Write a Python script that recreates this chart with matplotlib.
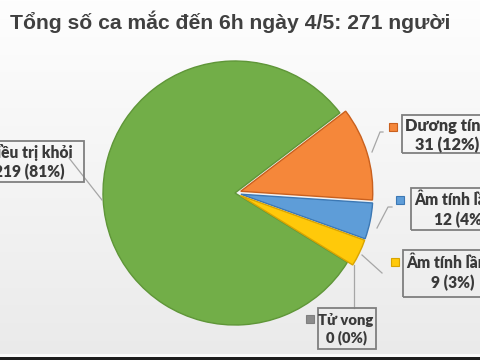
import matplotlib.pyplot as plt
import numpy as np
from matplotlib.patches import Rectangle
from matplotlib.colors import LinearSegmentedColormap

# data
title = "Tổng số ca mắc đến 6h ngày 4/5: 271 người"
labels = ["Điều trị khỏi", "Dương tính", "Âm tính lần 1", "Âm tính lần 2", "Tử vong"]
values = [219, 31, 12, 9, 0]
pct = ["81%", "12%", "4%", "3%", "0%"]

colors = ["#72AE48", "#F5873A", "#5E9DD8", "#FFC90A", "#8C8C8C"]
edges = ["#5F9638", "#C9601E", "#3C78B4", "#D9A400", "#8C8C8C"]
# offsets in pixels (pie centre/radius are given in pixels too)
explode = [0, 6, 6, 6, 0]

W, H = 480, 360
def Y(y):
    # image pixel row -> axes y
    return H - y

fig = plt.figure(figsize=(4.8, 3.6), dpi=100)
ax = fig.add_axes([0, 0, 1, 1])

# background gradient
grad = np.linspace(0, 1, 256).reshape(-1, 1)
cmap = LinearSegmentedColormap.from_list("bg", ["#FEFEFE", "#EAEAEA"])
ax.imshow(grad, extent=[0, W, 0, H], aspect="auto", cmap=cmap, zorder=0)

wedges, _ = ax.pie(values, colors=colors, explode=explode, startangle=328.3,
                   counterclock=False, center=(235, Y(193)), radius=132,
                   wedgeprops=dict(linewidth=1.0))
for w, ec in zip(wedges, edges):
    w.set_edgecolor(ec)
    w.set_zorder(2)
wedges[4].set_linewidth(0)

ax.set_xlim(0, W)
ax.set_ylim(0, H)
ax.set_aspect("auto")
ax.axis("off")

ax.text(10, Y(22), title, fontsize=15.2, fontweight="bold", color="#404040",
        family=["Liberation Sans", "DejaVu Sans"], ha="left", va="center")

line_c = "#A6A6A6"
leaders = [
    [(69, 158), (102, 200)],
    [(383, 132), (380, 132), (372, 152)],
    [(392, 207), (388, 207), (377, 228)],
    [(362, 255), (382, 273)],
    [(354, 265), (354, 308)],
]
for pts in leaders:
    xs = [p[0] for p in pts]
    ys = [Y(p[1]) for p in pts]
    ax.plot(xs, ys, color=line_c, lw=0.9, zorder=3)

# label boxes: (box x0, y0, x1, y1), text anchor x, y, ha, marker x, y, size
boxes = [
    ((-60, 141, 84, 182), (73, 162, "right"), None, 11.2),
    ((402, 115, 520, 153), (405, 135.5, "left"), (393, 127), 11.8),
    ((411, 188, 520, 230), (414, 210, "left"), (400, 200), 11.2),
    ((403, 250, 520, 297), (406, 273, "left"), (395, 262), 11.2),
    ((318, 308, 376, 349), (346, 329, "center"), (310, 319), 10.6),
]
for i, (box, tpos, mpos, fs) in enumerate(boxes):
    x0, y0, x1, y1 = box
    ax.add_patch(Rectangle((x0, Y(y1)), x1 - x0, y1 - y0, fill=False,
                           ec="#7F7F7F", lw=1.3, zorder=4))
    txt = "%s\n%d (%s)" % (labels[i], values[i], pct[i])
    ax.text(tpos[0], Y(tpos[1]), txt, ha=tpos[2], va="center",
            multialignment="center", fontsize=fs, fontweight="heavy",
            color="#3A3A3A", family=["Lato", "DejaVu Sans"], linespacing=1.25,
            zorder=5)
    if mpos is not None:
        ax.plot(mpos[0], Y(mpos[1]), "s", ms=5.5, color=colors[i],
                mec=edges[i] if i != 4 else "#7F7F7F", mew=0.8, zorder=5)

# bottom edge of the screenshot
ax.add_patch(Rectangle((0, 0), W, 3, color="#1E1E1E", lw=0, zorder=6))
ax.add_patch(Rectangle((0, 3), W, 3, color="#FAFAFA", lw=0, zorder=6))

fig.savefig("out.png", dpi=100)
